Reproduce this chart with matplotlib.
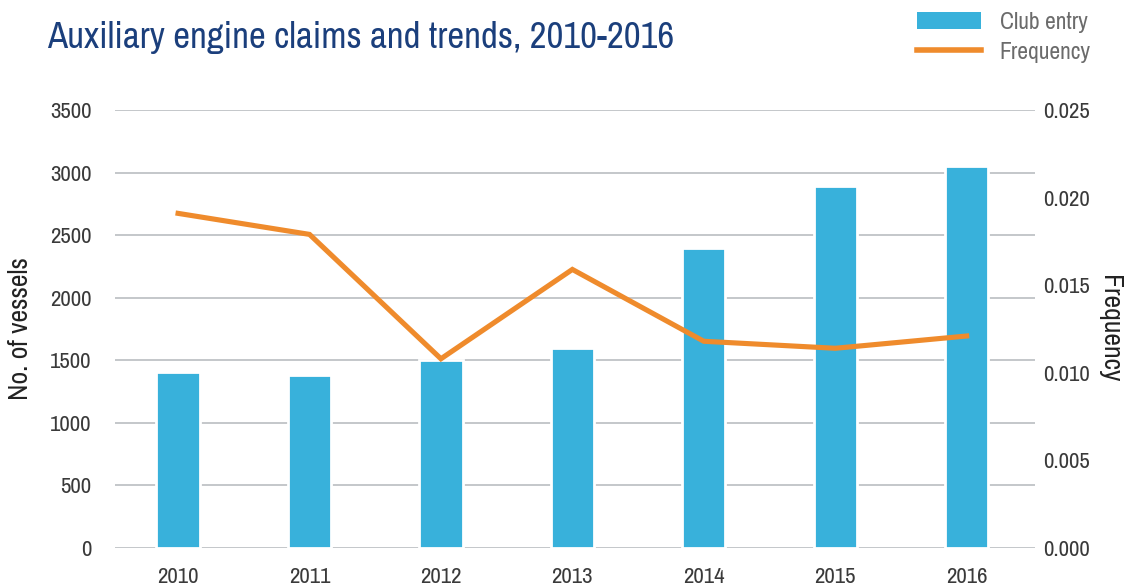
import matplotlib
matplotlib.use("Agg")
import matplotlib.pyplot as plt
from matplotlib import font_manager
from matplotlib.patches import Patch
from matplotlib.lines import Line2D

years = ["2010", "2011", "2012", "2013", "2014", "2015", "2016"]
club_entry = [1405, 1385, 1505, 1595, 2395, 2895, 3055]
frequency = [0.0191, 0.0179, 0.0108, 0.0159, 0.0118, 0.0114, 0.0121]

names = sorted({f.name for f in font_manager.fontManager.ttflist})
cond = [n for n in names if ("Condensed" in n or "Narrow" in n)]
fam = cond[0] if cond else "Roboto"
plt.rcParams['font.family'] = [fam, 'DejaVu Sans']

BLUE = "#38B1DB"
ORANGE = "#EF8B2C"
GRID = "#C4C7CA"
TXT = "#3a3a3a"

fig = plt.figure(figsize=(11.39, 5.88), dpi=100)
ax = fig.add_axes([115/1139, 1 - 548/588, (1035-115)/1139, (548-110)/588])
ax2 = ax.twinx()

x = list(range(len(years)))
ax.set_zorder(1)
ax.patch.set_visible(False)
ax2.set_zorder(2)
ax2.patch.set_visible(False)

ax.bar(x, club_entry, width=0.33, color=BLUE, edgecolor="white", linewidth=2, zorder=3)
ax.set_ylim(0, 3500)
ax.set_yticks(range(0, 3501, 500))
ax.set_xlim(-0.48, 6.52)
ax.set_xticks(x)
ax.set_xticklabels(years)
ax.grid(axis='y', color=GRID, linewidth=1.4, zorder=0)
ax.set_axisbelow(True)

ax2.plot(x, frequency, color=ORANGE, linewidth=3.7, solid_joinstyle='miter', zorder=4)
ax2.set_ylim(0, 0.025)
ax2.set_yticks([0, 0.005, 0.010, 0.015, 0.020, 0.025])
ax2.set_yticklabels(["0.000", "0.005", "0.010", "0.015", "0.020", "0.025"])

for a in (ax, ax2):
    for s in a.spines.values():
        s.set_visible(False)
    a.tick_params(length=0, labelsize=16.5, colors=TXT)
ax.tick_params(axis='y', pad=17)
ax.tick_params(axis='x', pad=14)
ax2.tick_params(axis='y', pad=6)

ax.set_ylabel("No. of vessels", fontsize=20, color="#222222", labelpad=12)
ax2.set_ylabel("Frequency", fontsize=20, color="#222222", rotation=-90, labelpad=23)

fig.text(47/1139, 1 - 38/588, "Auxiliary engine claims and trends, 2010-2016",
         fontsize=26.5, color="#1B3F7C", va='center', ha='left')

handles = [Patch(facecolor=BLUE, edgecolor='none'),
           Line2D([0], [0], color=ORANGE, linewidth=4)]
fig.legend(handles, ["Club entry", "Frequency"], loc='upper left',
           bbox_to_anchor=(917/1139, 1 - 12/588), frameon=False, fontsize=17,
           labelcolor="#6b6b6b", handlelength=2.7, handleheight=0.7,
           handletextpad=0.8, labelspacing=0.37, borderpad=0, borderaxespad=0)

fig.savefig("out.png", dpi=100)
